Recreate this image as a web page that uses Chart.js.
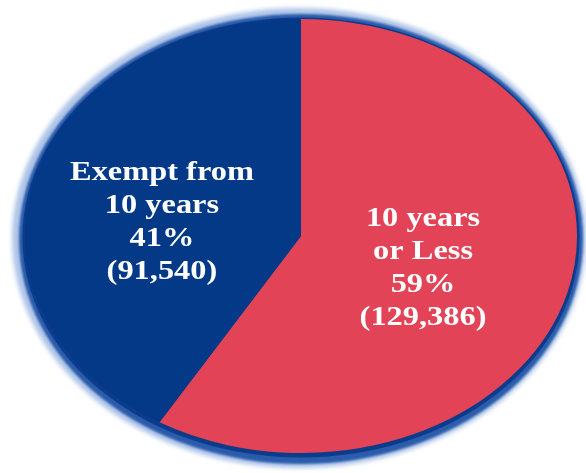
<!DOCTYPE html>
<html>
<head>
<meta charset="utf-8">
<script src="https://cdn.jsdelivr.net/npm/chart.js@4"></script>
<style>
html,body{margin:0;padding:0;background:#fff;}
#wrap{width:586px;height:473px;position:relative;}
</style>
</head>
<body>
<div id="wrap"><canvas id="c" width="586" height="473"></canvas></div>
<script>
// ---- data ----
const categories = ['10 years or Less', 'Exempt from 10 years'];
const categoryLines = [['10 years', 'or Less'], ['Exempt from', '10 years']];
const counts = [129386, 91540];
const percents = [59, 41];
const colors = ['#e24357', '#033986'];

// ---- styling ----
const SX = 1.272;            // horizontal stretch (ellipse)
const labelOffsets = [{dx: -11, dy: 4}, {dx: -6, dy: 15}];
const LINE_H = 33;

const ellipsePlugin = {
  id: 'ellipse',
  beforeDatasetsDraw(chart) {
    const arc = chart.getDatasetMeta(0).data[0];
    const ctx = chart.ctx;
    const cx = arc.x, cy = arc.y, r = arc.outerRadius;
    const rx = r * SX;
    ctx.save();
    ctx.filter = 'blur(2px)';
    ctx.fillStyle = '#aec4e8';
    ctx.beginPath(); ctx.ellipse(cx - 2, cy + 2, rx + 11, r + 13, 0, 0, Math.PI * 2); ctx.fill();
    ctx.filter = 'blur(1px)';
    ctx.fillStyle = '#2b5cab';
    ctx.beginPath(); ctx.ellipse(cx, cy + 3, rx + 6, r + 8, 0, 0, Math.PI * 2); ctx.fill();
    ctx.filter = 'none';
    ctx.fillStyle = '#0b3c8c';
    ctx.beginPath(); ctx.ellipse(cx, cy + 1.5, rx + 2.5, r + 3, 0, 0, Math.PI * 2); ctx.fill();
    ctx.restore();
    ctx.save();
    ctx.translate(cx, cy);
    ctx.scale(SX, 1);
    ctx.translate(-cx, -cy);
  },
  afterDatasetsDraw(chart) {
    const ctx = chart.ctx;
    ctx.restore();
    const meta = chart.getDatasetMeta(0);
    meta.data.forEach((arc, i) => {
      const mid = (arc.startAngle + arc.endAngle) / 2;
      const rr = arc.outerRadius * 0.5;
      const x = arc.x + Math.cos(mid) * rr * SX + labelOffsets[i].dx;
      const y = arc.y + Math.sin(mid) * rr + labelOffsets[i].dy;
      const lines = categoryLines[i].concat([
        percents[i] + '%',
        '(' + counts[i].toLocaleString('en-US') + ')'
      ]);
      ctx.save();
      ctx.fillStyle = '#ffffff';
      ctx.font = 'bold 27px "Liberation Serif", "Times New Roman", serif';
      ctx.textAlign = 'center';
      ctx.textBaseline = 'middle';
      const y0 = y - (lines.length - 1) * LINE_H / 2;
      lines.forEach((t, k) => {
        ctx.save();
        ctx.translate(x, y0 + k * LINE_H);
        ctx.scale(1.2, 1);
        ctx.fillText(t, 0, 0);
        ctx.restore();
      });
      ctx.restore();
    });
  }
};

new Chart(document.getElementById('c'), {
  type: 'pie',
  data: {
    labels: categories,
    datasets: [{
      data: counts,
      backgroundColor: colors,
      borderWidth: 0,
      clip: false
    }]
  },
  options: {
    responsive: false,
    animation: false,
    events: [],
    layout: { padding: { top: 19, bottom: 20, left: 84, right: 68 } },
    plugins: { legend: { display: false }, tooltip: { enabled: false } }
  },
  plugins: [ellipsePlugin]
});
</script>
</body>
</html>
